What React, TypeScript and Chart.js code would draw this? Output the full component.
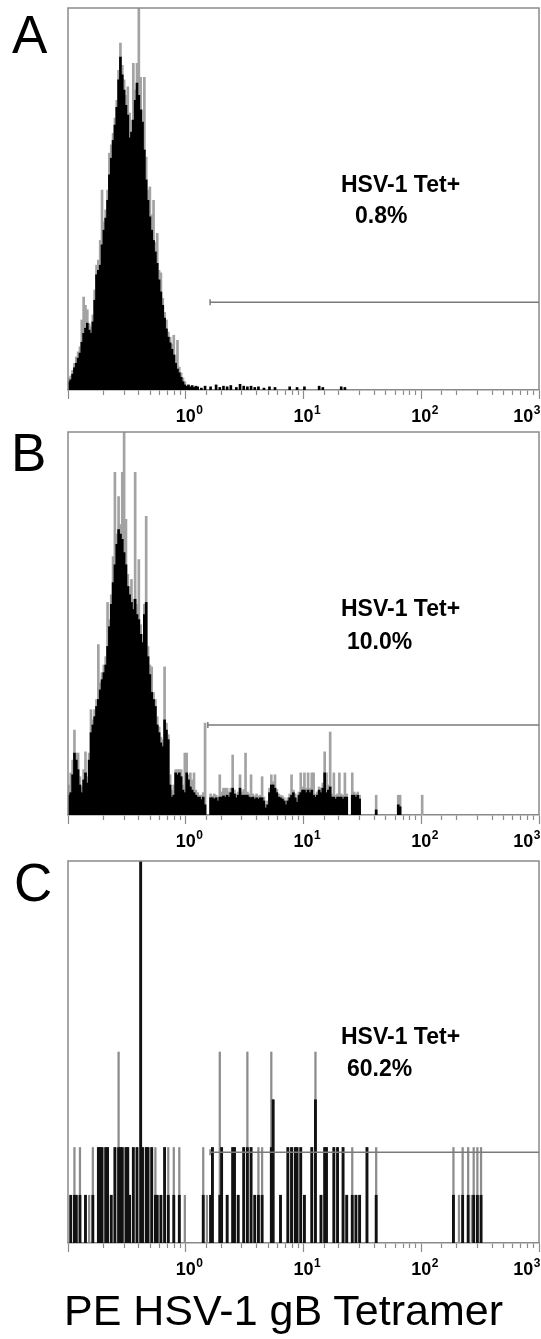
import React, { useEffect, useRef } from 'react';
import { Chart, registerables } from 'chart.js';

Chart.register(...registerables);

const FONT = '"Liberation Sans", Arial, Helvetica, sans-serif';
const CANVAS_W = 572;
const PAGE_W = 541;
const CH_PER_DECADE = 64;
const X_MIN = 0.1;
const X_MAX = 1000;

// axis ticks
const MAJOR_TICKS = [1, 10, 100, 1000];
const TICK_BASE = '10';
const TICK_EXPONENTS = ['0', '1', '2', '3'];

// texts
const PANEL_LETTERS = ['A', 'B', 'C'];
const GATE_NAME = 'HSV-1 Tet+';
const GATE_PERCENTS = ['0.8%', '10.0%', '60.2%'];
const AXIS_TITLE = 'PE HSV-1 gB Tetramer';

// gates (fluorescence start, count level) and y ranges
const GATE_STARTS = [1.61, 1.54, 1.61];
const GATE_LEVELS = [13.8, 14.1, 1.9];
const Y_MAXES = [60, 60, 8];

// Panel A: channel counts (64 channels / decade, channel 0 at 10^-1)
const aBlack = [
  1.3, 1.6, 2.5, 3.5, 4.2, 5.0, 5.8, 7.5, 8.9, 9.7,
  10.5, 9.4, 8.9, 10.7, 14.1, 18.1, 18.8, 19.6, 22.8, 25.1,
  27.0, 29.8, 33.8, 36.4, 39.2, 41.6, 44.4, 48.7, 52.3, 49.5,
  47.1, 44.7, 43.2, 39.6, 40.5, 42.4, 45.5, 48.2, 46.3, 44.0,
  42.1, 37.7, 33.0, 29.8, 27.2, 25.1, 23.5, 21.7, 19.9, 17.3,
  15.4, 13.3, 11.3, 9.6, 8.3, 7.4, 6.4, 5.5, 4.2, 3.3,
  2.7, 2.0, 1.3, 0.8,
];
const aGrey = [
  1.9, 2.2, 3.1, 4.2, 5.2, 6.0, 6.8, 11.0, 14.6, 13.3,
  12.6, 10.4, 9.9, 11.8, 15.7, 19.6, 20.4, 23.5, 31.4, 26.4,
  28.3, 31.4, 37.2, 38.5, 40.3, 42.7, 45.5, 50.2, 54.5, 51.0,
  48.7, 46.3, 47.6, 43.5, 42.4, 51.3, 47.1, 51.3, 63.0, 49.1,
  44.0, 49.1, 36.6, 31.4, 31.9, 27.5, 29.8, 23.2, 24.6, 18.8,
  18.4, 14.4, 12.2, 11.0, 9.1, 8.3, 7.2, 8.6, 5.5, 7.8,
  3.6, 2.7, 1.9, 1.3,
];
const aTailCh = [64, 65, 66, 67, 68, 69, 70, 72, 74, 77, 80, 82, 84, 86, 88, 91, 93, 95, 97, 99, 101, 103, 106, 109, 112, 120, 124, 128, 136, 138, 148, 150];
const aTailCounts = [0.6, 0.8, 0.5, 0.7, 0.4, 0.6, 0.5, 0.3, 0.6, 0.5, 0.8, 0.4, 0.6, 0.5, 0.7, 0.4, 0.9, 0.6, 0.5, 0.6, 0.4, 0.5, 0.3, 0.5, 0.4, 0.5, 0.4, 0.5, 0.6, 0.4, 0.5, 0.4];

// Panel B
const bBlack = [
  3.1, 3.5, 6.3, 9.7, 8.6, 7.1, 4.7, 3.5, 5.5, 6.6,
  5.0, 8.6, 12.9, 14.1, 15.4, 17.0, 18.1, 19.6, 21.2, 22.3,
  23.5, 26.4, 29.5, 33.0, 36.4, 39.2, 42.4, 44.7, 44.0, 43.2,
  41.1, 39.2, 35.8, 34.5, 33.3, 32.2, 33.8, 31.4, 30.6, 28.3,
  27.0, 31.4, 33.3, 24.8, 22.0, 19.2, 18.1, 17.0, 14.1, 12.9,
  11.3, 10.7, 14.9, 13.3, 11.8, 4.7, 2.8, 3.1, 6.6, 6.3,
  6.6, 6.0, 3.9, 3.5, 6.6, 5.5, 4.4, 3.9, 3.5, 3.1,
  2.8, 2.8, 2.4, 2.8, 1.6, 0, 0, 2.7, 2.7, 2.5,
  2.7, 2.2, 2.8, 2.8, 3.0, 2.8, 3.1, 2.8, 3.5, 4.2,
  3.3, 2.7, 3.1, 4.2, 3.1, 3.1, 3.1, 3.1, 2.8, 2.7,
  2.8, 2.5, 2.7, 2.5, 2.7, 2.7, 2.2, 1.1, 1.6, 3.5,
  4.7, 4.7, 4.2, 3.5, 2.8, 2.7, 2.5, 2.2, 1.6, 2.2,
  2.7, 3.1, 3.5, 2.7, 2.0, 3.1, 3.5, 3.9, 3.9, 3.5,
  3.9, 3.5, 3.9, 3.1, 2.8, 3.1, 3.9, 3.5, 4.2, 6.6,
  3.5, 3.9, 4.4, 2.8, 2.8, 2.5, 2.8, 2.8, 2.8, 2.5,
  2.8, 2.8, 0, 0, 3.1, 3.1, 2.8, 3.1, 2.5,
];
const bGrey = [
  4.7, 6.6, 8.6, 13.3, 9.7, 9.7, 6.0, 4.4, 7.1, 9.9,
  6.0, 9.7, 16.5, 14.9, 16.5, 18.1, 26.7, 20.7, 22.3, 23.5,
  24.8, 33.3, 30.6, 34.5, 40.5, 53.7, 44.0, 49.9, 45.5, 53.7,
  63.0, 46.3, 37.7, 35.8, 36.9, 33.8, 53.7, 33.0, 40.0, 29.8,
  28.3, 33.0, 46.8, 26.4, 23.5, 23.2, 19.2, 18.1, 15.4, 13.8,
  12.2, 11.8, 23.2, 14.4, 12.6, 6.3, 3.9, 4.7, 7.1, 7.1,
  7.1, 7.1, 4.7, 9.7, 9.7, 6.3, 6.6, 5.5, 6.6, 3.9,
  3.5, 3.1, 3.1, 3.5, 14.4, 0, 0, 3.3, 3.0, 3.3,
  3.1, 2.8, 6.3, 3.6, 4.2, 4.2, 4.2, 3.6, 4.2, 9.4,
  3.9, 3.3, 3.6, 6.3, 3.6, 4.0, 9.7, 3.6, 3.3, 6.3,
  3.3, 3.0, 3.3, 3.0, 3.1, 6.0, 2.8, 1.6, 2.2, 4.2,
  6.3, 5.2, 6.3, 4.0, 3.3, 3.1, 3.0, 2.7, 2.2, 2.7,
  3.3, 6.3, 3.9, 3.3, 2.5, 3.6, 6.6, 4.4, 6.6, 4.2,
  6.6, 4.2, 6.6, 6.6, 3.3, 3.6, 4.4, 4.2, 5.0, 9.9,
  6.6, 4.7, 13.0, 3.3, 6.6, 3.1, 3.3, 6.6, 3.3, 3.1,
  6.6, 3.3, 0, 0, 6.6, 3.6, 3.3, 3.6, 3.1,
];
const bExtraCh = [167, 179, 180, 192];
const bExtraBlack = [0.8, 1.6, 1.3, 0];
const bExtraGrey = [3.1, 3.1, 3.1, 3.1];

// Panel C (sparse events): channel, dark count, light count
const cChannels = [
  1, 3, 4, 6, 9, 11, 13, 16, 17, 18,
  20, 21, 23, 25, 27, 28, 29, 31, 32, 33,
  35, 37, 39, 40, 42, 43, 45, 47, 48, 50,
  52, 54, 57, 60, 63, 73, 75, 77, 78, 82,
  83, 86, 89, 90, 92, 95, 97, 99, 101, 103,
  105, 110, 111, 115, 119, 121, 123, 124, 126, 128,
  132, 134, 137, 139, 140, 144, 146, 149, 151, 154,
  156, 158, 162, 167, 209, 212, 214, 217, 219, 220,
  222, 224,
];
const cBlack = [
  1, 1, 1, 1, 1, 0, 1, 2, 2, 2,
  2, 2, 1, 2, 2, 2, 2, 2, 2, 1,
  2, 2, 9, 2, 2, 2, 2, 1, 1, 1,
  2, 1, 1, 1, 0, 1, 0, 1, 2, 1,
  2, 1, 2, 2, 1, 2, 2, 2, 1, 1,
  1, 2, 3, 1, 2, 2, 2, 2, 2, 1,
  2, 3, 1, 2, 2, 2, 2, 2, 1, 1,
  1, 1, 2, 1, 1, 0, 1, 1, 0, 1,
  1, 1,
];
const cGrey = [
  1, 2, 1, 2, 1, 1, 2, 2, 2, 2,
  2, 2, 1, 2, 4, 2, 2, 2, 2, 1,
  2, 2, 9, 2, 2, 2, 2, 2, 1, 1,
  2, 2, 2, 2, 1, 2, 1, 1, 2, 4,
  2, 1, 2, 2, 1, 2, 4, 2, 1, 2,
  2, 4, 3, 1, 2, 2, 2, 2, 2, 1,
  2, 4, 1, 2, 2, 2, 2, 2, 1, 2,
  1, 1, 2, 2, 2, 1, 2, 2, 1, 2,
  2, 2,
];

const chanX = (c: number) => Math.pow(10, Math.log10(X_MIN) + (c + 0.5) / CH_PER_DECADE);
const seq = (n: number) => Array.from({ length: n }, (_, i) => i);
const series = (chs: number[], vals: number[]) =>
  chs.map((c, i) => ({ x: chanX(c), y: vals[i] })).filter((p) => p.y > 0);
const isMajor = (v: number) => {
  const l = Math.log10(v);
  return Math.abs(l - Math.round(l)) < 1e-6;
};

const PANEL_TOPS = [0, 424, 853];
const PANEL_HEIGHTS = [430, 431, 430];

const framePlugin = {
  id: 'frame',
  afterDatasetsDraw(chart: any) {
    const { ctx, chartArea } = chart;
    ctx.save();
    ctx.strokeStyle = '#8a8a8a';
    ctx.lineWidth = 1.5;
    ctx.beginPath();
    ctx.moveTo(chartArea.left, chartArea.bottom);
    ctx.lineTo(chartArea.left, chartArea.top);
    ctx.lineTo(chartArea.right, chartArea.top);
    ctx.lineTo(chartArea.right, chartArea.bottom);
    ctx.stroke();
    ctx.restore();
  },
};

const gatePlugin = {
  id: 'gate',
  afterDatasetsDraw(chart: any, _args: any, opts: any) {
    const { ctx, chartArea, scales } = chart;
    const px = scales.x.getPixelForValue(opts.start);
    const py = scales.y.getPixelForValue(opts.level);
    ctx.save();
    ctx.strokeStyle = '#7a7a7a';
    ctx.lineWidth = 1.5;
    ctx.beginPath();
    ctx.moveTo(px, py);
    ctx.lineTo(chartArea.right, py);
    ctx.stroke();
    ctx.beginPath();
    ctx.moveTo(px, py - 3);
    ctx.lineTo(px, py + 3);
    ctx.stroke();
    ctx.restore();
  },
};

// draws "10" with a raised exponent under each decade tick of the x scale
const tickLabelPlugin = {
  id: 'tickLabels',
  afterDraw(chart: any) {
    const { ctx, chartArea, scales } = chart;
    const x = scales.x;
    const baseY = chartArea.bottom + 32;
    ctx.save();
    ctx.fillStyle = '#000';
    ctx.textBaseline = 'alphabetic';
    ctx.textAlign = 'left';
    MAJOR_TICKS.forEach((v, i) => {
      const px = x.getPixelForValue(v);
      ctx.font = `bold 18px ${FONT}`;
      const w1 = ctx.measureText(TICK_BASE).width;
      ctx.font = `bold 12px ${FONT}`;
      const w2 = ctx.measureText(TICK_EXPONENTS[i]).width;
      let left = px - w1 / 2;
      if (left + w1 + w2 + 1 > PAGE_W) left = PAGE_W - w1 - w2 - 1;
      ctx.font = `bold 18px ${FONT}`;
      ctx.fillText(TICK_BASE, left, baseY);
      ctx.font = `bold 12px ${FONT}`;
      ctx.fillText(TICK_EXPONENTS[i], left + w1 + 0.5, baseY - 8);
    });
    ctx.restore();
  },
};

function buildDatasets(panel: number) {
  if (panel === 0) {
    return [
      { data: series(seq(aBlack.length), aBlack).concat(series(aTailCh, aTailCounts)), backgroundColor: '#000000', barThickness: 2 },
      { data: series(seq(aGrey.length), aGrey), backgroundColor: '#a3a3a3', barThickness: 2 },
    ];
  }
  if (panel === 1) {
    return [
      { data: series(seq(bBlack.length), bBlack).concat(series(bExtraCh, bExtraBlack)), backgroundColor: '#000000', barThickness: 2 },
      { data: series(seq(bGrey.length), bGrey).concat(series(bExtraCh, bExtraGrey)), backgroundColor: '#a3a3a3', barThickness: 2 },
    ];
  }
  return [
    { data: series(cChannels, cBlack), backgroundColor: '#111111', barThickness: 2.2 },
    { data: series(cChannels, cGrey), backgroundColor: '#8c8c8c', barThickness: 1.6 },
  ];
}

function makeChart(canvas: HTMLCanvasElement, panel: number) {
  return new Chart(canvas, {
    type: 'bar',
    data: { datasets: buildDatasets(panel) as any },
    plugins: [framePlugin, gatePlugin, tickLabelPlugin],
    options: {
      responsive: false,
      animation: false,
      events: [],
      datasets: { bar: { grouped: false, borderWidth: 0, categoryPercentage: 1, barPercentage: 1 } },
      layout: { padding: { left: 68, top: 8, right: CANVAS_W - 539, bottom: 0 } },
      plugins: {
        legend: { display: false },
        tooltip: { enabled: false },
        gate: { start: GATE_STARTS[panel], level: GATE_LEVELS[panel] },
      } as any,
      scales: {
        x: {
          type: 'logarithmic',
          min: X_MIN,
          max: X_MAX,
          offset: false,
          afterFit: (s: any) => {
            s.height = 40;
          },
          grid: {
            display: true,
            offset: false,
            drawOnChartArea: false,
            drawTicks: true,
            tickLength: 9,
            tickColor: '#8a8a8a',
            tickWidth: 1.2,
            tickBorderDash: (ctx: any) => (ctx.tick && isMajor(ctx.tick.value) ? [] : [4.5, 30]),
          },
          border: { display: true, color: '#8a8a8a', width: 1.5 },
          ticks: {
            display: false,
            autoSkip: false,
            maxRotation: 0,
            minRotation: 0,
          },
        } as any,
        y: { display: false, min: 0, max: Y_MAXES[panel] },
      },
    },
  });
}

const textBase: React.CSSProperties = {
  position: 'absolute',
  whiteSpace: 'nowrap',
  lineHeight: 1,
  color: '#000',
  fontFamily: FONT,
};

const LETTER_POS = [
  { left: 12, top: 8 },
  { left: 11, top: 426 },
  { left: 14, top: 856 },
];
const NAME_POS = [
  { left: 341, top: 173 },
  { left: 341, top: 597 },
  { left: 341, top: 1025 },
];
const PCT_POS = [
  { left: 355, top: 204 },
  { left: 347, top: 630 },
  { left: 347, top: 1057 },
];

export default function App() {
  const refs = [useRef<HTMLCanvasElement>(null), useRef<HTMLCanvasElement>(null), useRef<HTMLCanvasElement>(null)];

  useEffect(() => {
    const charts = refs.map((r, i) => makeChart(r.current as HTMLCanvasElement, i));
    return () => charts.forEach((c) => c.destroy());
  }, []);

  return (
    <div
      style={{
        position: 'absolute',
        left: 0,
        top: 0,
        width: PAGE_W,
        height: 1339,
        overflow: 'hidden',
        background: '#fff',
        fontFamily: FONT,
      }}
    >
      {[0, 1, 2].map((i) => (
        <canvas
          key={'c' + i}
          ref={refs[i]}
          width={CANVAS_W}
          height={PANEL_HEIGHTS[i]}
          style={{ position: 'absolute', left: 0, top: PANEL_TOPS[i], width: CANVAS_W, height: PANEL_HEIGHTS[i] }}
        />
      ))}
      {PANEL_LETTERS.map((t, i) => (
        <div key={'l' + i} style={{ ...textBase, ...LETTER_POS[i], fontSize: 53 }}>
          {t}
        </div>
      ))}
      {GATE_PERCENTS.map((p, i) => (
        <React.Fragment key={'g' + i}>
          <div style={{ ...textBase, ...NAME_POS[i], fontSize: 23, fontWeight: 'bold' }}>{GATE_NAME}</div>
          <div style={{ ...textBase, ...PCT_POS[i], fontSize: 23, fontWeight: 'bold' }}>{p}</div>
        </React.Fragment>
      ))}
      <div style={{ ...textBase, left: 64, top: 1289, fontSize: 43 }}>{AXIS_TITLE}</div>
    </div>
  );
}
